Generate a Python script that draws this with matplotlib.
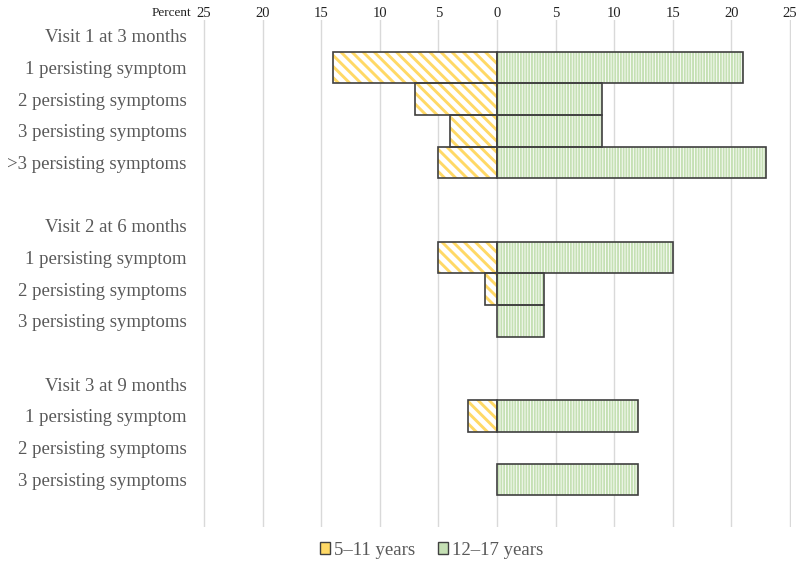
import matplotlib
matplotlib.use("Agg")
import matplotlib.pyplot as plt
from matplotlib.patches import Patch
import numpy as np

plt.rcParams['hatch.linewidth'] = 2.1

row_labels = ["Visit 1 at 3 months", "1 persisting symptom", "2 persisting symptoms",
              "3 persisting symptoms", ">3 persisting symptoms", "",
              "Visit 2 at 6 months", "1 persisting symptom", "2 persisting symptoms",
              "3 persisting symptoms", "",
              "Visit 3 at 9 months", "1 persisting symptom", "2 persisting symptoms",
              "3 persisting symptoms", ""]
young = [0, 14, 7, 4, 5, 0, 0, 5, 1, 0, 0, 0, 2.5, 0, 0, 0]
older = [0, 21, 9, 9, 23, 0, 0, 15, 4, 4, 0, 0, 12, 0, 12, 0]
has_bar = [False, True, True, True, True, False, False, True, True, True, False,
           False, True, False, True, False]
ticks = [-25, -20, -15, -10, -5, 0, 5, 10, 15, 20, 25]

yellow = "#ffd966"
green = "#c5e0b4"
edge = "#404040"
text_col = "#595959"
font = "Liberation Serif"

fig = plt.figure(figsize=(7.99, 5.69), dpi=100)
ax = fig.add_axes([0.254, 0.074, 0.736, 0.891])

y = np.arange(len(row_labels))
yb = [yy for yy, h in zip(y, has_bar) if h]
yv = [-v for v, h in zip(young, has_bar) if h]
ov = [v for v, h in zip(older, has_bar) if h]

# hatched fills
b1 = ax.barh(yb, yv, height=1.0, color="white", edgecolor=yellow, hatch="\\\\\\", linewidth=0, zorder=2)
b2 = ax.barh(yb, ov, height=1.0, color="white", edgecolor=green, hatch="||||||", linewidth=0, zorder=2)
for p in b2:
    try:
        p.set_hatch_linewidth(1.4)
    except Exception:
        pass
# outlines
for v, yy in zip(yv, yb):
    if v != 0:
        ax.barh(yy, v, height=1.0, color="none", edgecolor=edge, linewidth=1.2, zorder=3)
for v, yy in zip(ov, yb):
    if v != 0:
        ax.barh(yy, v, height=1.0, color="none", edgecolor=edge, linewidth=1.2, zorder=3)

ax.set_xlim(-25.1, 25.1)
ax.set_ylim(len(row_labels) - 0.5, -0.5)
ax.set_xticks(ticks)
ax.set_xticklabels([str(abs(t)) for t in ticks], fontfamily=font, fontsize=10.5, color="#222222")
ax.xaxis.tick_top()
ax.tick_params(axis="x", length=0, pad=0)
ax.set_yticks(y)
ax.set_yticklabels(row_labels, fontfamily=font, fontsize=13.5, color=text_col)
ax.tick_params(axis="y", length=0, pad=12)
for s in ax.spines.values():
    s.set_visible(False)
ax.grid(axis="x", color="#d9d9d9", linewidth=1, zorder=0)
ax.set_axisbelow(True)

fig.canvas.draw()
lbl = ax.get_xticklabels()[0]
bb = lbl.get_window_extent()
inv = fig.transFigure.inverted()
x0, y0 = inv.transform((bb.x0 - 6, (bb.y0 + bb.y1) / 2))
fig.text(x0, y0, "Percent", ha="right", va="center", fontfamily=font, fontsize=9.5, color="#222222")

hy = Patch(facecolor=yellow, edgecolor=edge, label="5–11 years")
hg = Patch(facecolor=green, edgecolor=edge, label="12–17 years")
leg = fig.legend(handles=[hy, hg], loc="center", bbox_to_anchor=(0.54, 0.033), ncol=2, frameon=False,
                 prop={"family": font, "size": 13.5}, labelcolor=text_col,
                 handlelength=0.55, handleheight=0.55, handletextpad=0.2, columnspacing=1.2)

fig.savefig("out.png", dpi=100)
